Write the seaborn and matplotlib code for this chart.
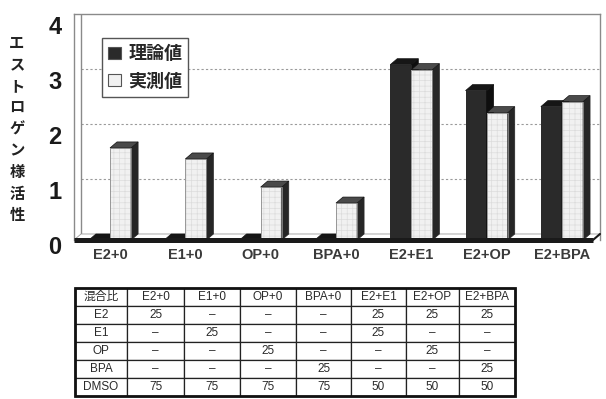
import matplotlib
matplotlib.use("Agg")
import matplotlib.pyplot as plt
import seaborn as sns
import pandas as pd
from matplotlib import font_manager
from matplotlib.font_manager import FontProperties
from matplotlib.patches import Polygon, Rectangle
from matplotlib.transforms import ScaledTranslation

# ---- data -------------------------------------------------------------
categories = ["E2+0", "E1+0", "OP+0", "BPA+0", "E2+E1", "E2+OP", "E2+BPA"]
theoretical = [0, 0, 0, 0, 3.18, 2.71, 2.42]
measured = [1.67, 1.47, 0.96, 0.67, 3.09, 2.31, 2.51]
series_names = ["理論値", "実測値"]
y_ticks = [0, 1, 2, 3, 4]
ylabel_text = "エストロゲン様活性"

table_header = "混合比"
table_rows = ["E2", "E1", "OP", "BPA", "DMSO"]
row_e2 = ["25", "–", "–", "–", "25", "25", "25"]
row_e1 = ["–", "25", "–", "–", "25", "–", "–"]
row_op = ["–", "–", "25", "–", "–", "25", "–"]
row_bpa = ["–", "–", "–", "25", "–", "–", "25"]
row_dmso = ["75", "75", "75", "75", "50", "50", "50"]

# ---- style ------------------------------------------------------------
sns.set_style("white")
installed = {f.name for f in font_manager.fontManager.ttflist}
narrow = "Liberation Sans Narrow" if "Liberation Sans Narrow" in installed else "Liberation Sans"
cjk = "Noto Sans CJK JP"
plt.rcParams["font.family"] = [narrow, cjk, "DejaVu Sans"]
plt.rcParams["hatch.linewidth"] = 0.5

dark, light = "#2a2a2a", "#f1f1f1"

W, H = 606, 399
fig = plt.figure(figsize=(W / 100, H / 100), dpi=100)
ax = fig.add_axes([74 / W, (H - 240) / H, 526 / W, 226 / H])

df = pd.DataFrame({
    "category": categories * 2,
    "value": theoretical + measured,
    "series": [series_names[0]] * len(categories) + [series_names[1]] * len(categories),
})
sns.barplot(data=df, x="category", y="value", hue="series", order=categories,
            hue_order=series_names, palette=[dark, light], width=0.56,
            saturation=1, linewidth=0, ax=ax)

xmin, xmax = -0.478, 6.505
ymax = 4.1
ax.set_xlim(xmin, xmax)
ax.set_ylim(0, ymax)
# depth of the pseudo-3D extrusion, in data units
dx, dy = 0.093, 0.109

dark_c, light_c = ax.containers[0], ax.containers[1]


def extrude(bar, side_col, top_col, z):
    x0 = bar.get_x()
    x1 = x0 + bar.get_width()
    h = bar.get_height()
    side = Polygon([(x1, 0), (x1 + dx, dy), (x1 + dx, h + dy), (x1, h)],
                   closed=True, facecolor=side_col, edgecolor=side_col, lw=0.5, zorder=z)
    top = Polygon([(x0, h), (x0 + dx, h + dy), (x1 + dx, h + dy), (x1, h)],
                  closed=True, facecolor=top_col, edgecolor="#111111", lw=0.5, zorder=z)
    ax.add_patch(side)
    ax.add_patch(top)


for bar in dark_c:
    bar.set_zorder(3)
    extrude(bar, "#0e0e0e", "#161616", 3)

for bar in light_c:
    bar.set_zorder(4)
    bar.set_hatch("+++")
    bar.set_edgecolor("#dcdcdc")
    ax.add_patch(Rectangle((bar.get_x(), 0), bar.get_width(), bar.get_height(),
                           fill=False, edgecolor="#8a8a8a", lw=0.6, zorder=4.1))
    extrude(bar, "#262626", "#4a4a4a", 4)

# floor: white slab with a heavy front edge
floor = Polygon([(xmin, 0), (xmax - dx, 0), (xmax, dy), (xmin + dx, dy)], closed=True,
                facecolor="white", edgecolor="#9a9a9a", lw=0.6, zorder=1)
ax.add_patch(floor)
ax.plot([xmin, xmax - dx], [0, 0], color="#1a1a1a", lw=3.6, zorder=5,
        solid_capstyle="butt", clip_on=False)
ax.plot([xmax - dx, xmax], [0, dy], color="#1a1a1a", lw=1.5, zorder=5, clip_on=False)

# back wall edge and dashed grid
ax.plot([xmin + dx, xmin + dx], [dy, ymax], color="#8a8a8a", lw=1.0, zorder=0.6)
ax.hlines([t + dy for t in y_ticks[1:-1]], xmin + dx, xmax, colors="#9a9a9a",
          linestyles=(0, (2, 2)), lw=0.8, zorder=0.5)

for s in ["left", "top", "right"]:
    ax.spines[s].set_color("#8a8a8a")
    ax.spines[s].set_linewidth(1.0)
ax.spines["bottom"].set_visible(False)

ax.set_xlabel("")
ax.set_ylabel("")
ax.set_yticks(y_ticks)
ax.set_yticklabels([str(t) for t in y_ticks])
ax.tick_params(axis="y", length=0, pad=9)
ax.tick_params(axis="x", length=0, pad=6)
for lab in ax.get_yticklabels():
    lab.set_fontsize(17)
    lab.set_fontweight("bold")
    lab.set_color("#1a1a1a")
    lab.set_transform(lab.get_transform() + ScaledTranslation(0, -5 / 100, fig.dpi_scale_trans))
for lab in ax.get_xticklabels():
    lab.set_fontsize(10.5)
    lab.set_fontweight("bold")
    lab.set_color("#3a3a3a")

# legend
sns.move_legend(ax, "upper left", bbox_to_anchor=(102 / W, 1 - 38 / H),
                bbox_transform=fig.transFigure, title=None, frameon=True,
                prop=FontProperties(family=cjk, weight="bold", size=13),
                handlelength=0.7, handleheight=0.7, handletextpad=0.4,
                labelspacing=0.45, borderpad=0.35, borderaxespad=0,
                fancybox=False, edgecolor="#555555", framealpha=1)
leg = ax.get_legend()
leg.get_frame().set_linewidth(1.0)
for hdl, col in zip(leg.legend_handles, [dark, light]):
    hdl.set_facecolor(col)
    hdl.set_edgecolor("#555555")
    hdl.set_linewidth(0.8)
leg.set_zorder(10)

# vertical y-axis title, one character per line
for i, ch in enumerate(ylabel_text):
    fig.text(17 / W, 1 - (43 + 21.5 * i) / H, ch, ha="center", va="center",
             fontsize=11, fontweight="bold", family=cjk, color="#222222")

# mixing-ratio table
tax = fig.add_axes([75 / W, 3 / H, 440 / W, 108 / H])
tax.axis("off")
body = [row_e2, row_e1, row_op, row_bpa, row_dmso]
cell_text = [[table_header] + categories] + [[r] + v for r, v in zip(table_rows, body)]
col_w = [52, 57, 56, 56, 55, 55, 53, 56]
tot = sum(col_w)
tbl = tax.table(cellText=cell_text, cellLoc="center", bbox=[0, 0, 1, 1],
                colWidths=[c / tot for c in col_w])
tbl.auto_set_font_size(False)
tbl.set_fontsize(8.5)
for (r, c), cell in tbl.get_celld().items():
    cell.set_linewidth(0.9)
    cell.set_edgecolor("#222222")
    cell.get_text().set_color("#2a2a2a")
    cell.get_text().set_fontfamily([narrow, cjk])
tax.add_patch(Rectangle((0, 0), 1, 1, transform=tax.transAxes, fill=False,
                        lw=2, edgecolor="#111111", clip_on=False, zorder=5))

fig.savefig("out.png", dpi=100)
